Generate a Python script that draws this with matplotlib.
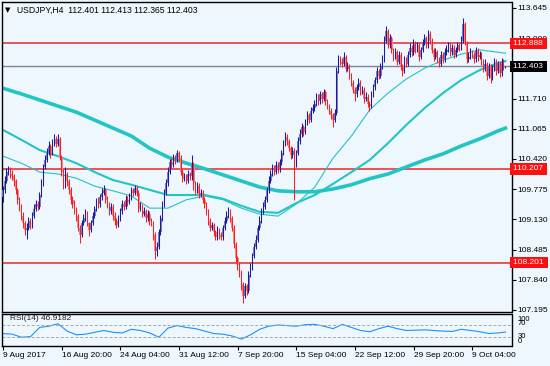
import numpy as np
import matplotlib
matplotlib.use('Agg')
import matplotlib.pyplot as plt
import matplotlib.transforms as mtransforms

plt.rcParams['font.family'] = ['Liberation Sans', 'DejaVu Sans']

# USDJPY H4 candles (bar index = 4h bar)
close = np.array([
    109.75, 109.95, 110.15, 110.20, 110.10, 110.05, 109.95, 109.75, 109.55, 109.40,
    109.20, 109.05, 108.90, 108.95, 109.10, 109.00, 109.20, 109.35, 109.45, 109.40,
    109.65, 109.90, 110.25, 110.40, 110.55, 110.70, 110.55, 110.75, 110.85, 110.75,
    110.85, 110.45, 110.15, 109.85, 110.10, 109.95, 109.75, 109.55, 109.45, 109.35,
    109.20, 108.95, 108.80, 109.05, 109.15, 109.25, 109.05, 108.90, 109.05, 109.20,
    109.35, 109.50, 109.45, 109.60, 109.70, 109.75, 109.55, 109.45, 109.30, 109.40,
    109.20, 109.10, 109.00, 109.15, 109.30, 109.45, 109.40, 109.55, 109.50, 109.60,
    109.75, 109.70, 109.80, 109.70, 109.35, 109.40, 109.25, 109.30, 109.15, 109.25,
    109.10, 109.05, 108.80, 108.45, 108.55, 108.85, 109.15, 109.45, 109.70, 109.90,
    110.15, 110.35, 110.30, 110.45, 110.40, 110.55, 110.45, 110.15, 110.00, 110.05,
    109.95, 110.10, 110.05, 110.30, 109.90, 109.75, 109.85, 109.65, 109.70, 109.55,
    109.45, 109.30, 109.10, 108.95, 109.00, 108.85, 108.75, 108.90, 108.80, 108.75,
    108.95, 109.10, 109.20, 109.30, 109.15, 108.95, 108.60, 108.30, 108.15, 108.00,
    107.75, 107.50, 107.70, 107.60, 107.95, 108.10, 108.35, 108.55, 108.70, 108.95,
    109.10, 109.30, 109.40, 109.55, 109.75, 109.95, 110.10, 110.25, 110.15, 110.30,
    110.20, 110.35, 110.55, 110.75, 110.90, 110.80, 110.65, 110.50, 110.60, 110.30,
    110.55, 110.80, 110.95, 111.10, 111.00, 111.20, 111.35, 111.25, 111.45, 111.50,
    111.60, 111.75, 111.65, 111.80, 111.70, 111.85, 111.65, 111.55, 111.45, 111.35,
    111.25, 111.40, 112.30, 112.55, 112.50, 112.45, 112.60, 112.35, 112.40, 112.20,
    112.05, 111.90, 111.80, 111.95, 112.05, 111.85, 111.90, 111.70, 111.75, 111.60,
    111.55, 111.80, 111.95, 112.10, 112.30, 112.20, 112.40, 112.55, 112.95, 113.15,
    112.85, 113.00, 112.75, 112.60, 112.70, 112.50, 112.65, 112.40, 112.30, 112.55,
    112.45, 112.65, 112.80, 112.70, 112.90, 112.75, 112.85, 112.60, 112.75, 112.90,
    113.00, 112.85, 113.10, 112.95, 112.75, 112.60, 112.70, 112.55, 112.45, 112.65,
    112.55, 112.70, 112.75, 112.85, 112.70, 112.80, 112.65, 112.75, 112.85, 112.80,
    112.95, 113.30, 112.90, 112.55, 112.60, 112.70, 112.65, 112.55, 112.75, 112.60,
    112.65, 112.50, 112.35, 112.45, 112.20, 112.40, 112.15, 112.35, 112.50, 112.30,
    112.45, 112.25, 112.50, 112.40, 112.403])
high = np.array([
    109.85, 110.05, 110.22, 110.28, 110.25, 110.18, 110.10, 110.00, 109.80, 109.60,
    109.45, 109.28, 109.10, 109.05, 109.18, 109.15, 109.28, 109.45, 109.55, 109.52,
    109.72, 110.00, 110.32, 110.50, 110.65, 110.80, 110.75, 110.85, 110.95, 110.92,
    110.95, 110.90, 110.50, 110.20, 110.25, 110.15, 110.00, 109.82, 109.62, 109.55,
    109.40, 109.25, 109.00, 109.12, 109.25, 109.35, 109.30, 109.08, 109.12, 109.28,
    109.42, 109.58, 109.60, 109.68, 109.80, 109.86, 109.80, 109.62, 109.50, 109.48,
    109.45, 109.28, 109.15, 109.22, 109.38, 109.55, 109.52, 109.65, 109.62, 109.70,
    109.82, 109.80, 109.86, 109.85, 109.75, 109.50, 109.45, 109.40, 109.35, 109.32,
    109.30, 109.15, 109.10, 108.85, 108.65, 108.92, 109.22, 109.52, 109.78, 110.00,
    110.25, 110.42, 110.45, 110.52, 110.50, 110.62, 110.60, 110.50, 110.20, 110.12,
    110.10, 110.18, 110.15, 110.50, 110.35, 109.95, 109.92, 109.90, 109.78, 109.75,
    109.60, 109.50, 109.35, 109.15, 109.08, 109.05, 108.90, 108.98, 108.95, 108.85,
    109.02, 109.18, 109.30, 109.40, 109.35, 109.20, 109.00, 108.65, 108.35, 108.22,
    108.05, 107.80, 107.78, 107.75, 108.02, 108.20, 108.42, 108.62, 108.80, 109.02,
    109.20, 109.38, 109.50, 109.62, 109.82, 110.05, 110.18, 110.32, 110.30, 110.38,
    110.35, 110.42, 110.62, 110.82, 111.00, 110.95, 110.85, 110.70, 110.68, 110.65,
    110.62, 110.88, 111.05, 111.18, 111.15, 111.28, 111.45, 111.40, 111.52, 111.60,
    111.68, 111.82, 111.80, 111.88, 111.85, 111.92, 111.90, 111.70, 111.60, 111.50,
    111.40, 111.48, 112.38, 112.65, 112.62, 112.58, 112.70, 112.65, 112.50, 112.45,
    112.25, 112.10, 111.95, 112.02, 112.15, 112.10, 111.98, 111.95, 111.85, 111.80,
    111.65, 111.88, 112.02, 112.18, 112.38, 112.35, 112.48, 112.65, 113.05, 113.25,
    113.20, 113.08, 113.05, 112.80, 112.78, 112.75, 112.72, 112.70, 112.45, 112.62,
    112.60, 112.72, 112.90, 112.85, 112.98, 112.95, 112.92, 112.90, 112.82, 112.98,
    113.10, 113.05, 113.18, 113.15, 113.00, 112.80, 112.78, 112.75, 112.60, 112.72,
    112.70, 112.78, 112.85, 112.92, 112.90, 112.88, 112.85, 112.82, 112.92, 112.90,
    113.05, 113.44, 113.35, 112.95, 112.70, 112.78, 112.75, 112.70, 112.82, 112.80,
    112.72, 112.70, 112.55, 112.55, 112.50, 112.48, 112.45, 112.42, 112.58, 112.55,
    112.52, 112.50, 112.58, 112.55, 112.413])
low = np.array([
    109.50, 109.70, 109.90, 110.08, 110.02, 109.98, 109.85, 109.68, 109.45, 109.30,
    109.12, 108.95, 108.80, 108.72, 108.90, 108.92, 108.95, 109.15, 109.30, 109.32,
    109.35, 109.60, 109.85, 110.20, 110.35, 110.50, 110.45, 110.50, 110.70, 110.68,
    110.70, 110.40, 110.05, 109.78, 109.80, 109.85, 109.68, 109.45, 109.38, 109.25,
    109.10, 108.88, 108.62, 108.75, 109.00, 109.10, 108.98, 108.78, 108.85, 109.00,
    109.15, 109.30, 109.38, 109.40, 109.55, 109.65, 109.48, 109.38, 109.22, 109.25,
    109.12, 109.02, 108.95, 108.97, 109.10, 109.25, 109.32, 109.35, 109.42, 109.45,
    109.55, 109.62, 109.65, 109.62, 109.28, 109.30, 109.18, 109.20, 109.08, 109.10,
    109.02, 108.98, 108.70, 108.28, 108.35, 108.50, 108.80, 109.10, 109.40, 109.65,
    109.85, 110.10, 110.22, 110.25, 110.32, 110.35, 110.38, 110.08, 109.92, 109.95,
    109.88, 109.90, 109.98, 109.98, 109.75, 109.68, 109.70, 109.58, 109.60, 109.48,
    109.38, 109.22, 109.02, 108.88, 108.90, 108.78, 108.68, 108.70, 108.72, 108.68,
    108.70, 108.90, 109.05, 109.15, 109.08, 108.88, 108.52, 108.22, 108.05, 107.90,
    107.62, 107.35, 107.45, 107.52, 107.55, 107.90, 108.05, 108.30, 108.50, 108.65,
    108.90, 109.05, 109.25, 109.35, 109.50, 109.70, 109.90, 110.05, 110.08, 110.10,
    110.12, 110.15, 110.30, 110.50, 110.70, 110.72, 110.58, 110.42, 110.45, 109.55,
    110.25, 110.50, 110.75, 110.90, 110.92, 110.95, 111.15, 111.18, 111.20, 111.40,
    111.45, 111.55, 111.58, 111.60, 111.62, 111.65, 111.58, 111.48, 111.38, 111.28,
    111.10, 111.20, 111.35, 112.25, 112.42, 112.38, 112.40, 112.28, 112.30, 112.12,
    111.98, 111.82, 111.65, 111.75, 111.90, 111.78, 111.80, 111.62, 111.65, 111.52,
    111.45, 111.50, 111.75, 111.90, 112.05, 112.12, 112.15, 112.35, 112.50, 112.90,
    112.78, 112.80, 112.68, 112.52, 112.55, 112.42, 112.45, 112.32, 112.20, 112.25,
    112.38, 112.40, 112.60, 112.62, 112.65, 112.68, 112.70, 112.52, 112.55, 112.70,
    112.85, 112.78, 112.80, 112.88, 112.68, 112.52, 112.55, 112.48, 112.38, 112.40,
    112.48, 112.50, 112.65, 112.70, 112.62, 112.65, 112.58, 112.60, 112.70, 112.72,
    112.75, 112.90, 112.85, 112.48, 112.50, 112.55, 112.58, 112.48, 112.50, 112.52,
    112.55, 112.42, 112.28, 112.30, 112.10, 112.15, 112.05, 112.10, 112.30, 112.22,
    112.25, 112.18, 112.20, 112.32, 112.365])
first_open = 109.60
opn = np.r_[first_open, close[:-1]]

# moving averages sampled every 10 bars
ma_bars = [0, 10, 20, 30, 40, 50, 60, 70, 80, 90, 100, 110, 120, 130, 140, 150, 160,
           170, 180, 190, 200, 210, 220, 230, 240, 250, 260, 270, 274]
ma_slow = [111.93, 111.81, 111.68, 111.55, 111.42, 111.25, 111.08, 110.91, 110.65, 110.46,
           110.33, 110.21, 110.08, 109.95, 109.82, 109.74, 109.72, 109.72, 109.78, 109.87,
           110.00, 110.10, 110.25, 110.40, 110.53, 110.70, 110.85, 111.02, 111.08]
ma_mid = [111.04, 110.83, 110.61, 110.48, 110.33, 110.14, 109.97, 109.87, 109.76, 109.65,
          109.65, 109.65, 109.57, 109.42, 109.29, 109.27, 109.48, 109.65, 109.89, 110.14,
          110.40, 110.76, 111.15, 111.51, 111.83, 112.11, 112.32, 112.47, 112.51]
ma_fast = [110.48, 110.33, 110.14, 110.10, 110.01, 109.84, 109.74, 109.63, 109.37, 109.37,
           109.55, 109.63, 109.55, 109.37, 109.24, 109.20, 109.46, 109.82, 110.44, 110.91,
           111.47, 111.83, 112.13, 112.36, 112.53, 112.66, 112.75, 112.70, 112.68]

# RSI(14) sampled every 5 bars
rsi_bars = list(range(0, 271, 5)) + [274]
rsi = [42, 40, 30, 32, 62, 66, 74, 50, 38, 40, 46, 52, 46, 44, 56, 52, 44, 30, 60, 68,
       62, 58, 50, 42, 40, 34, 24, 38, 56, 66, 70, 68, 66, 71, 72, 66, 58, 72, 62, 52,
       48, 58, 66, 58, 52, 53, 54, 52, 50, 49, 56, 52, 48, 42, 44, 46.9182]

levels = [112.888, 110.207, 108.201]
last_price = 112.403
# 112.355 sits under the black price box in the original, so it is left out
price_ticks = [107.195, 107.840, 108.485, 109.130, 109.775, 110.420, 111.065,
               111.710, 113.000, 113.645]
time_ticks = [0, 32, 64, 96, 128, 160, 192, 224, 256]
time_labels = ['9 Aug 2017', '16 Aug 20:00', '24 Aug 04:00', '31 Aug 12:00',
               '7 Sep 20:00', '15 Sep 04:00', '22 Sep 12:00', '29 Sep 20:00',
               '9 Oct 04:00']

bg = '#eef6fe'
ma_col = '#22c4c4'
fs = 6

fig = plt.figure(figsize=(5.5, 3.66), dpi=100, facecolor=bg)
ax = fig.add_axes([2/550, 1-312/366, 509.5/550, 310/366], facecolor=bg)
ax2 = fig.add_axes([2/550, 1-345.5/366, 509.5/550, 32/366], facecolor=bg)

xlim = (-0.55, 277.3)
bars = np.arange(len(close))
up = close >= opn
dn = ~up
body_lo = np.minimum(opn, close)
body_h = np.maximum(np.abs(close - opn), 0.01)

ax.bar(bars[up], body_h[up], bottom=body_lo[up], width=0.9, color='#7c7cc8', lw=0, zorder=3)
ax.vlines(bars[up] - 0.15, low[up], high[up], color='#1c1c9a', lw=0.75, zorder=4)
ax.bar(bars[dn], body_h[dn], bottom=body_lo[dn], width=0.9, color='#f38888', lw=0, zorder=3)
ax.vlines(bars[dn] - 0.15, low[dn], high[dn], color='#ff1e1e', lw=0.75, zorder=4)

ax.plot(ma_bars, ma_slow, color=ma_col, lw=2.6, zorder=2)
ax.plot(ma_bars, ma_mid, color=ma_col, lw=1.5, zorder=2)
ax.plot(ma_bars, ma_fast, color=ma_col, lw=0.8, zorder=2)

for lv in levels:
    ax.axhline(lv, color='#e8262b', lw=1.1, zorder=1)
ax.axhline(last_price, color='#7d8894', lw=1.0, zorder=1)

ax.set_xlim(*xlim)
ax.set_ylim(107.152, 113.773)
ax.set_xticks([])
ax.yaxis.tick_right()
ax.set_yticks(price_ticks)
ax.set_yticklabels(['%.3f' % t for t in price_ticks], fontsize=fs)
ax.tick_params(axis='y', length=3, width=0.8, pad=1.5, colors='black')
for s in ax.spines.values():
    s.set_linewidth(1.0)

trans = mtransforms.blended_transform_factory(ax.transAxes, ax.transData)
for lv in levels:
    ax.text(1.002, lv, '%.3f ' % lv, transform=trans, ha='left', va='center', fontsize=fs,
            color='white', zorder=10, clip_on=False,
            bbox=dict(boxstyle='square,pad=0.25', fc='#ff1010', ec='none'))
ax.text(1.002, last_price, '%.3f ' % last_price, transform=trans, ha='left', va='center',
        fontsize=fs, color='white', zorder=10, clip_on=False,
        bbox=dict(boxstyle='square,pad=0.25', fc='black', ec='none'))

fig.text(5/550, 1-10/366, '\u25bc', fontsize=5, va='center', ha='left', family='DejaVu Sans')
fig.text(17/550, 1-10/366, 'USDJPY,H4  112.401 112.413 112.365 112.403', fontsize=6.2,
         va='center', ha='left')

# RSI panel
ax2.plot(rsi_bars, rsi, color='#1e90ff', lw=0.8)
for lv in (70, 30):
    ax2.axhline(lv, color='#a8a8a8', lw=0.7, ls=(0, (3, 2)))
ax2.set_xlim(*xlim)
ax2.set_ylim(3, 107.5)
ax2.set_yticks([])
ax2.set_xticks(time_ticks)
ax2.set_xticklabels(time_labels, fontsize=fs, ha='left')
ax2.tick_params(axis='x', length=3, width=0.8, pad=2)
for s in ax2.spines.values():
    s.set_linewidth(1.0)
ax2.text(4, 90, 'RSI(14) 46.9182', fontsize=fs, va='center', ha='left', color='#202020')
t2 = mtransforms.blended_transform_factory(ax2.transAxes, ax2.transData)
for lab, yv in (('100', 88), ('70', 74), ('30', 31), ('0', 15)):
    ax2.text(1.012, yv, lab, transform=t2, fontsize=5.5, va='center', ha='left', clip_on=False)

fig.savefig('out.png', dpi=100, facecolor=bg)
